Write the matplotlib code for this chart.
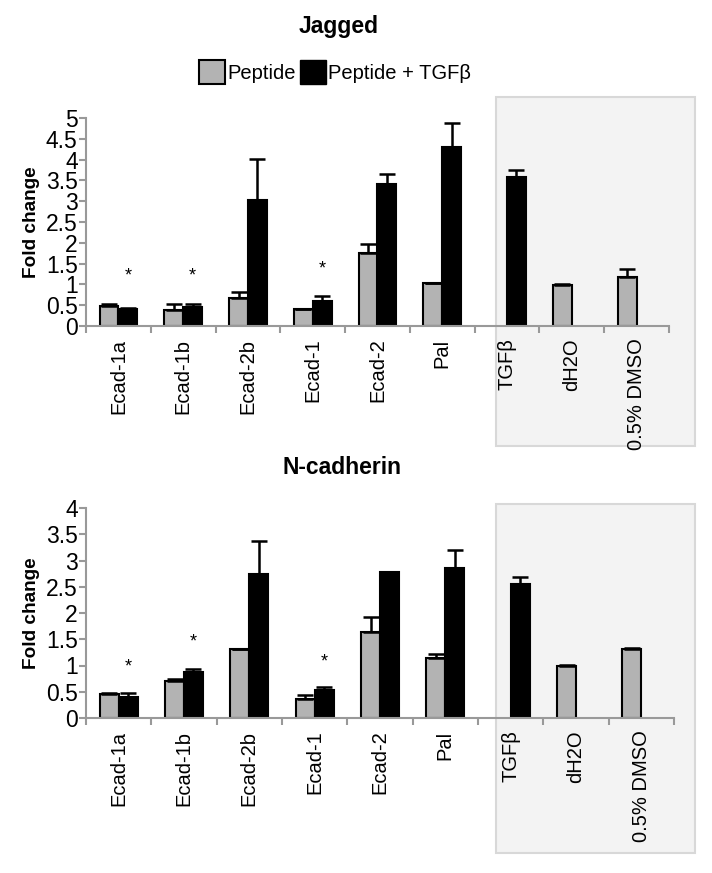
import matplotlib.pyplot as plt
import numpy as np
from matplotlib.patches import Rectangle, Patch

plt.rcParams['font.family'] = ['Liberation Sans', 'DejaVu Sans']

categories = ['Ecad-1a', 'Ecad-1b', 'Ecad-2b', 'Ecad-1', 'Ecad-2', 'Pal', 'TGFβ', 'dH2O', '0.5% DMSO']

# Jagged
jag_pep = [0.48, 0.38, 0.67, 0.40, 1.75, 1.04, np.nan, 0.99, 1.18]
jag_pep_err = [0.04, 0.14, 0.14, 0.02, 0.22, 0.0, 0.0, 0.01, 0.18]
jag_tgf = [0.42, 0.46, 3.03, 0.61, 3.41, 4.30, 3.59, np.nan, np.nan]
jag_tgf_err = [0.01, 0.06, 0.99, 0.11, 0.24, 0.57, 0.16, 0.0, 0.0]
jag_star = [1.2, 1.2, np.nan, 1.36, np.nan, np.nan, np.nan, np.nan, np.nan]

# N-cadherin
ncad_pep = [0.45, 0.70, 1.31, 0.37, 1.64, 1.15, np.nan, 1.00, 1.31]
ncad_pep_err = [0.03, 0.04, 0.0, 0.07, 0.29, 0.07, 0.0, 0.005, 0.03]
ncad_tgf = [0.40, 0.88, 2.74, 0.54, 2.78, 2.85, 2.56, np.nan, np.nan]
ncad_tgf_err = [0.08, 0.05, 0.64, 0.05, 0.01, 0.35, 0.12, 0.0, 0.0]
ncad_star = [0.97, 1.45, np.nan, 1.07, np.nan, np.nan, np.nan, np.nan, np.nan]

fig = plt.figure(figsize=(7.12, 8.73), dpi=100)
W, H = 712, 873

# shaded control boxes
for (y0, y1) in [(97, 446), (504, 853)]:
    fig.patches.append(Rectangle((496 / W, 1 - y1 / H), 199 / W, (y1 - y0) / H,
                                 transform=fig.transFigure, facecolor='#f3f3f3',
                                 edgecolor='#d8d8d8', lw=1.5, zorder=-1))


def draw(ax, pep, pep_err, tgf, tgf_err, stars, ymax, step):
    x = np.arange(len(categories))
    w = 0.29
    pep = np.array(pep)
    tgf = np.array(tgf)
    ax.bar(x - w / 2, pep, w, color='#b3b3b3', edgecolor='black', lw=1.5, zorder=2)
    ax.bar(x + w / 2, tgf, w, color='black', edgecolor='black', lw=1.5, zorder=2)
    ax.errorbar(x - w / 2, pep, yerr=[np.zeros(len(x)), pep_err], fmt='none',
                ecolor='black', elinewidth=1.8, capsize=6, capthick=1.8, zorder=3)
    ax.errorbar(x + w / 2, tgf, yerr=[np.zeros(len(x)), tgf_err], fmt='none',
                ecolor='black', elinewidth=1.8, capsize=6, capthick=1.8, zorder=3)
    for xi, s in zip(x, stars):
        if not np.isnan(s):
            ax.text(xi + w / 2, s, '*', ha='center', va='center', fontsize=13)
    ax.set_xlim(-0.5, len(x) - 0.5)
    ax.set_ylim(0, ymax)
    ticks = np.arange(0, ymax + 0.01, step)
    ax.set_yticks(ticks)
    ax.set_yticklabels([f'{v:g}' for v in ticks])
    ax.set_xticks(x)
    ax.set_xticklabels(categories, rotation=90, fontsize=14.5)
    ax.tick_params(axis='x', length=0, pad=9)
    ax.set_xticks(np.arange(-0.5, len(x)), minor=True)
    ax.tick_params(axis='x', which='minor', length=5, color='#999999', width=1.5)
    ax.tick_params(axis='y', labelsize=16.5, length=5, color='#999999', width=1.5, pad=1)
    ax.set_ylabel('Fold change', fontsize=13.7, fontweight='bold', labelpad=4)
    for s in ['top', 'right']:
        ax.spines[s].set_visible(False)
    for s in ['left', 'bottom']:
        ax.spines[s].set_color('#999999')
        ax.spines[s].set_linewidth(1.5)
    ax.set_facecolor('none')


ax1 = fig.add_axes([86 / W, 1 - 326 / H, 583 / W, 208 / H])
draw(ax1, jag_pep, jag_pep_err, jag_tgf, jag_tgf_err, jag_star, 5, 0.5)
ax2 = fig.add_axes([86 / W, 1 - 718 / H, 588 / W, 210 / H])
draw(ax2, ncad_pep, ncad_pep_err, ncad_tgf, ncad_tgf_err, ncad_star, 4, 0.5)

fig.text(339 / W, 1 - 26 / H, 'Jagged', ha='center', va='center', fontsize=16.5, fontweight='bold')
fig.text(342 / W, 1 - 467 / H, 'N-cadherin', ha='center', va='center', fontsize=16.5, fontweight='bold')

handles = [Patch(facecolor='#b3b3b3', edgecolor='black', lw=1.5),
           Patch(facecolor='black', edgecolor='black')]
fig.legend(handles, ['Peptide', 'Peptide + TGFβ'], loc='center', ncol=2,
           bbox_to_anchor=(335 / W, 1 - 72 / H), frameon=False, fontsize=14.5,
           handlelength=1.3, handleheight=1.4, handletextpad=0.1, columnspacing=0.2)

fig.savefig('out.png', dpi=100)
